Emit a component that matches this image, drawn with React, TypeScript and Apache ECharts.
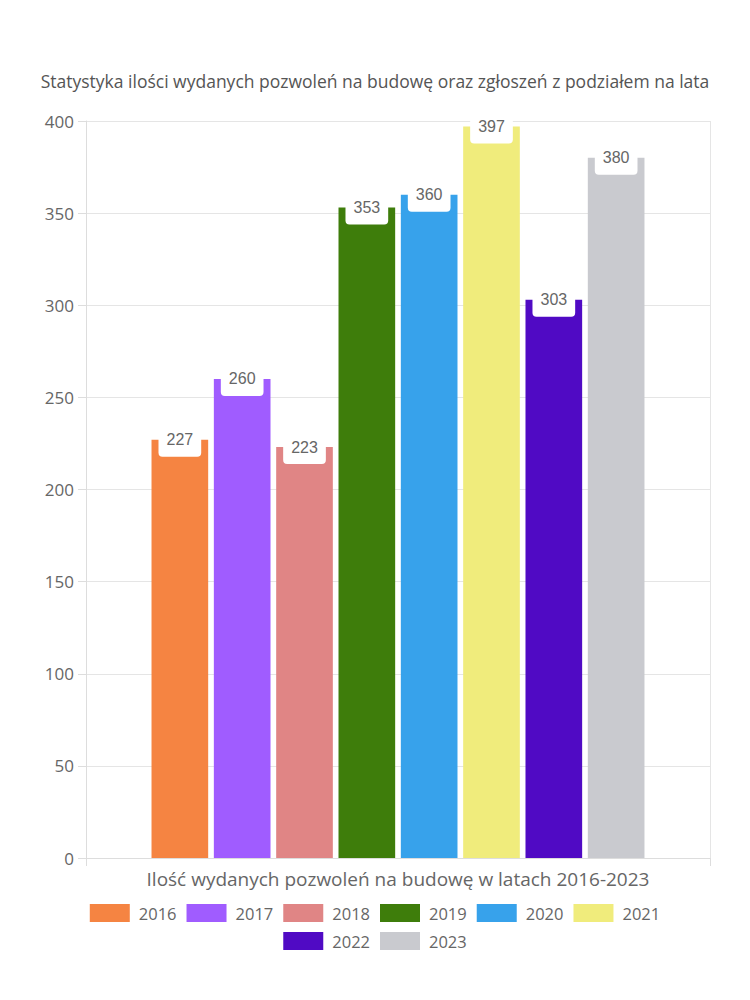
import React, { useEffect, useRef } from "react";
import * as echarts from "echarts";

const title = "Statystyka ilości wydanych pozwoleń na budowę oraz zgłoszeń z podziałem na lata";
const category = "Ilość wydanych pozwoleń na budowę w latach 2016-2023";
const years = ["2016", "2017", "2018", "2019", "2020", "2021", "2022", "2023"];
const values = [227, 260, 223, 353, 360, 397, 303, 380];
const colors = ["#F58442", "#A05CFF", "#E08585", "#3E7D0B", "#37A2EB", "#F0EC7C", "#500AC4", "#C9CACF"];
const legendRow1 = years.slice(0, 6);
const legendRow2 = years.slice(6);

const FONT = "Open Sans";

export default function App() {
  const ref = useRef<HTMLDivElement>(null);
  useEffect(() => {
    if (!ref.current) return;
    const chart = echarts.init(ref.current, null, { renderer: "svg" });
    const legendBase = {
      left: "center",
      itemWidth: 40,
      itemHeight: 18,
      itemGap: 10,
      icon: "rect",
      textStyle: { fontFamily: FONT, fontSize: 16.5, color: "#666", padding: [0, 0, 0, 4] },
    };
    chart.setOption({
      animation: false,
      title: {
        text: title,
        left: "center",
        top: 67,
        textStyle: { fontFamily: FONT, fontSize: 17.5, fontWeight: "normal", color: "#555" },
      },
      legend: [
        { ...legendBase, top: 899, data: legendRow1 },
        { ...legendBase, top: 927, data: legendRow2 },
      ],
      grid: { left: 86, right: 40, top: 121, bottom: 142, containLabel: false },
      xAxis: {
        type: "category",
        data: [category],
        axisLine: { lineStyle: { color: "#ddd" } },
        axisTick: { show: true, length: 8, lineStyle: { color: "#ddd" } },
        splitLine: { show: true, lineStyle: { color: "#e5e5e5" } },
        axisLabel: { fontFamily: FONT, fontSize: 19, color: "#666", margin: 11 },
      },
      yAxis: {
        type: "value",
        min: 0,
        max: 400,
        interval: 50,
        axisLine: { show: true, lineStyle: { color: "#ddd" } },
        axisTick: { show: true, length: 8, lineStyle: { color: "#ddd" } },
        splitLine: { lineStyle: { color: "#e5e5e5" } },
        axisLabel: { fontFamily: FONT, fontSize: 17, color: "#666", margin: 12 },
      },
      series: years.map((y, i) => ({
        name: y,
        type: "bar",
        data: [values[i]],
        itemStyle: { color: colors[i] },
        barGap: "10%",
        barCategoryGap: "21%",
        label: {
          show: true,
          position: "insideTop",
          offset: [0, -22],
          backgroundColor: "#fff",
          borderRadius: 4,
          padding: [9, 8, 9, 8],
          fontFamily: "Liberation Sans",
          fontSize: 16,
          color: "#666",
        },
      })),
    });
    return () => chart.dispose();
  }, []);
  return <div ref={ref} style={{ width: 750, height: 1000, margin: -8 }} />;
}
